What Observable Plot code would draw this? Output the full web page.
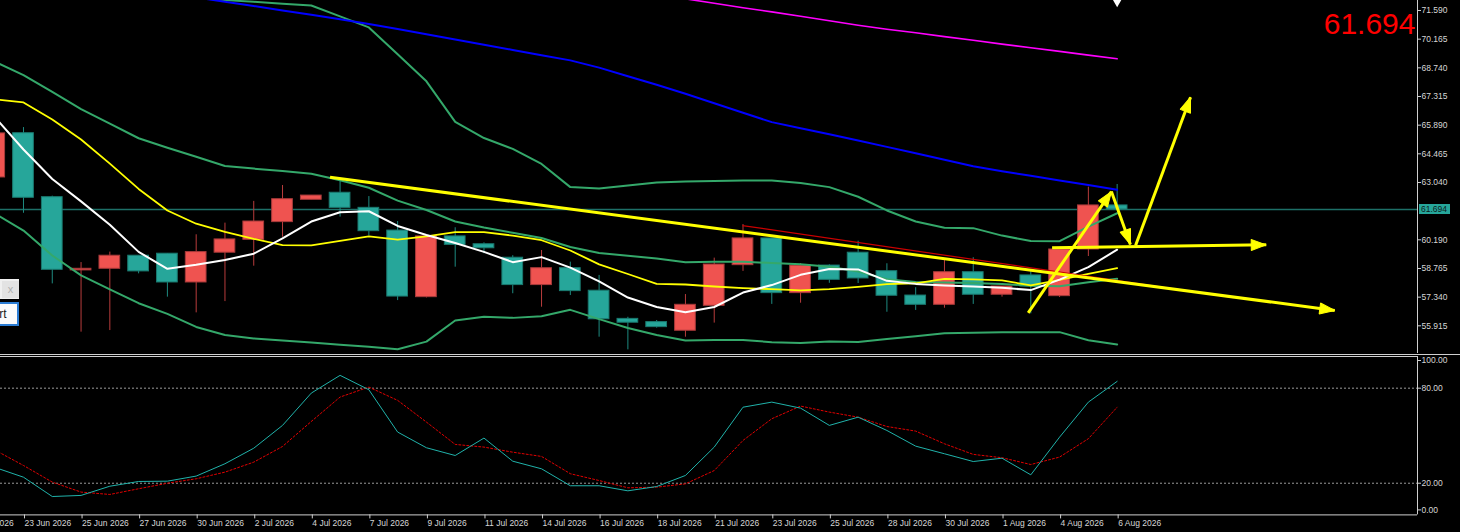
<!DOCTYPE html>
<html><head><meta charset="utf-8">
<script src="https://cdn.jsdelivr.net/npm/d3@7"></script>
<script src="https://cdn.jsdelivr.net/npm/@observablehq/plot@0.6"></script>
<style>
html,body{margin:0;padding:0;background:#000;width:1460px;height:532px;overflow:hidden;}
#wrap{position:relative;width:1460px;height:532px;overflow:hidden;}
#main{position:absolute;left:0;top:0;width:1460px;height:354px;border-bottom:1px solid #cfcfcf;}
#stoch{position:absolute;left:0;top:355px;width:1460px;height:177px;}
#main svg,#stoch svg{display:block;}
.pricebox{position:absolute;left:1419px;width:29px;height:10px;padding-left:2px;background:#26a69a;color:#0c1c1c;font:8.5px 'Liberation Sans',Arial,sans-serif;line-height:10px;}
#w1{position:absolute;left:-40px;top:279px;width:59px;height:20px;background:#f0f0f0;}
#w1 span{position:absolute;right:0;top:2px;width:17px;height:17px;background:#e3e3e3;color:#b0b0b0;font:11px 'Liberation Sans',Arial,sans-serif;text-align:center;line-height:17px;}
#w2{position:absolute;left:-31px;top:302px;width:46px;height:20px;border:2px solid #2b7cd3;background:#fbfbfb;font:12px 'Liberation Sans',Arial,sans-serif;color:#1a1a1a;text-align:center;line-height:20px;}
</style></head>
<body><div id="wrap"><div id="main"></div><div id="stoch"></div>
<div id="w1"><span>x</span></div><div id="w2">Start</div></div>
<script>
// ---------- data ----------
const dates = ["20 Jun 2026","22 Jun 2026","23 Jun 2026","24 Jun 2026","25 Jun 2026","26 Jun 2026","27 Jun 2026","29 Jun 2026","30 Jun 2026","1 Jul 2026","2 Jul 2026","3 Jul 2026","4 Jul 2026","6 Jul 2026","7 Jul 2026","8 Jul 2026","9 Jul 2026","10 Jul 2026","11 Jul 2026","13 Jul 2026","14 Jul 2026","15 Jul 2026","16 Jul 2026","17 Jul 2026","18 Jul 2026","20 Jul 2026","21 Jul 2026","22 Jul 2026","23 Jul 2026","24 Jul 2026","25 Jul 2026","27 Jul 2026","28 Jul 2026","29 Jul 2026","30 Jul 2026","31 Jul 2026","1 Aug 2026","3 Aug 2026","4 Aug 2026","5 Aug 2026","6 Aug 2026"];
const labelPos = [0,2,4,6,8,10,12,14,16,18,20,22,24,26,28,30,32,34,36,38,40];
// series below start at dates[1]
const open  = [63.29,65.49,62.31,58.67,58.75,59.40,59.50,58.07,59.55,60.19,61.07,62.18,62.53,61.78,60.65,57.34,60.36,59.97,59.30,57.94,58.78,57.66,56.26,56.10,55.67,56.91,58.93,60.26,57.54,58.91,59.55,58.63,57.42,56.96,58.58,57.46,58.42,57.39,59.71,61.90];
const high  = [65.72,65.77,62.36,59.06,59.58,59.40,59.50,60.44,61.02,62.10,62.89,62.39,63.14,62.34,61.10,60.36,60.79,60.04,59.40,59.66,59.08,58.42,56.34,56.18,57.47,59.28,60.95,60.26,59.01,58.95,60.12,59.00,57.81,59.16,59.30,57.87,58.63,59.81,62.81,62.94];
const low   = [63.04,61.51,58.00,55.60,55.68,58.50,57.34,56.56,57.12,58.88,60.32,62.18,61.32,60.39,57.17,57.30,58.83,59.50,57.51,56.84,57.42,55.35,54.72,55.80,55.35,56.05,58.62,56.98,57.04,58.03,58.02,56.59,56.68,56.79,56.98,57.34,56.51,57.32,59.36,61.67];
const close = [65.48,62.28,58.70,58.75,59.40,58.62,58.07,59.58,60.21,61.10,62.21,62.39,61.78,60.62,57.37,60.36,59.94,59.77,57.94,58.78,57.64,56.24,56.07,55.85,56.96,58.96,60.26,57.54,58.91,58.20,58.27,57.41,56.96,58.58,57.46,57.87,57.87,59.71,61.90,61.694];
const maWhite  = [66.30,64.68,63.21,62.10,60.94,59.59,58.75,58.95,59.19,59.50,60.26,61.10,61.56,61.61,60.88,60.43,60.03,59.59,59.08,59.33,58.81,58.12,57.32,56.85,56.59,56.85,57.57,57.94,58.45,58.74,58.72,58.15,58.00,57.92,57.87,57.81,57.69,58.21,58.83,59.70];
const maYellow = [67.17,67.02,66.17,65.18,63.98,62.72,61.65,60.99,60.59,60.24,59.93,59.91,60.14,60.36,60.20,60.36,60.57,60.57,60.40,60.17,59.66,58.97,58.49,58.00,57.97,57.87,57.79,57.74,57.68,57.74,57.85,57.99,58.03,58.25,58.22,58.17,57.93,58.20,58.50,58.78];
const maBlue = [null,null,null,null,null,null,72.45,72.24,72.02,71.81,71.59,71.38,71.16,70.92,70.67,70.41,70.15,69.89,69.63,69.37,69.11,68.75,68.32,67.90,67.45,66.98,66.51,66.04,65.74,65.44,65.13,64.81,64.49,64.17,63.85,63.60,63.37,63.14,62.91,62.68];
const maMagenta = [null,null,null,null,null,null,null,null,null,null,null,null,null,null,null,null,null,null,null,null,null,null,null,null,72.17,71.95,71.73,71.52,71.30,71.08,70.86,70.66,70.48,70.29,70.11,69.92,69.74,69.56,69.37,69.19];
const bbUpper = [null,null,null,null,null,null,null,72.24,72.11,72.02,71.93,71.84,71.30,70.75,69.42,68.07,66.05,65.25,64.71,63.96,62.81,62.74,62.89,63.04,63.09,63.12,63.14,63.14,63.02,62.81,62.33,61.65,61.10,60.79,60.77,60.40,60.13,60.12,60.85,61.51];
const bbMiddle = [69.05,68.38,67.54,66.69,65.97,65.24,64.77,64.32,63.86,63.73,63.61,63.47,63.15,62.78,62.14,61.67,61.10,60.80,60.54,60.28,59.83,59.53,59.40,59.26,59.08,59.10,59.10,59.04,58.98,58.85,58.61,58.23,58.09,58.07,58.04,58.00,57.91,57.88,58.08,58.25];
const bbLower = [61.50,60.65,59.41,58.42,57.73,57.04,56.51,55.86,55.46,55.29,55.19,55.09,54.98,54.87,54.75,55.13,56.18,56.37,56.31,56.39,56.71,56.25,55.81,55.46,55.19,55.21,55.21,55.10,55.06,55.13,55.11,55.26,55.40,55.55,55.57,55.60,55.60,55.60,55.20,54.99];
const stochMain   = [30.0,23.8,11.6,12.3,18.1,21.1,21.3,24.5,32.3,42.1,56.5,76.9,88.1,79.0,52.3,42.4,37.5,48.5,33.9,29.1,18.4,18.4,15.2,17.9,24.9,42.8,68.0,71.2,67.4,56.5,61.7,53.3,43.4,38.6,33.7,35.8,25.3,49.1,71.2,84.3];
const stochSignal = [41.0,31.2,20.7,14.4,12.9,16.5,20.0,22.8,27.0,33.3,43.2,59.0,74.4,80.7,72.3,58.6,44.5,42.8,39.6,36.9,26.0,21.7,17.1,17.5,19.6,28.0,47.0,60.7,68.7,64.9,61.7,55.8,52.9,44.9,38.2,36.1,31.8,36.5,48.1,68.0];
const priceTicks = [71.590,70.165,68.740,67.315,65.890,64.465,63.040,60.190,58.765,57.340,55.915];
const stochLevels = [20, 80];
// drawn objects: [bar position, price]
const arrowFrom = [[12.65,63.30],[36.91,56.56],[39.80,62.59],[40.64,59.91],[37.74,59.79]];
const arrowTo   = [[47.56,56.68],[39.80,62.59],[40.46,59.96],[42.55,67.28],[45.18,59.94]];
const redLineFrom = [[26.98,60.90]];
const redLineTo   = [[44.04,57.32]];
const topMarker = [[40, 72.12]];

// ---------- build ----------
const bars = open.map((o, k) => ({pos: k + 1, date: dates[k + 1], o, h: high[k], l: low[k], c: close[k]}));
const last = close[close.length - 1];
const up = "#ef5350", down = "#26a69a";
const xDomain = [1.201, 50.436];
const yDomain = [54.539, 72.087];
const font = "'Liberation Sans', Arial, sans-serif";
const baseStyle = {background: "transparent", color: "#d6d6d6", fontFamily: font, fontSize: "8.5px", overflow: "hidden"};

function arrowHead(color, context) {
  const doc = (context && context.document) || document;
  const ns = "http://www.w3.org/2000/svg";
  const m = doc.createElementNS(ns, "marker");
  m.setAttribute("viewBox", "-16 -7 17 14");
  m.setAttribute("markerWidth", "17");
  m.setAttribute("markerHeight", "14");
  m.setAttribute("markerUnits", "userSpaceOnUse");
  m.setAttribute("orient", "auto");
  m.setAttribute("refX", "0");
  m.setAttribute("refY", "0");
  const p = doc.createElementNS(ns, "path");
  p.setAttribute("d", "M-15,-5.5L0,0L-15,5.5Z");
  p.setAttribute("fill", color);
  p.setAttribute("stroke", color);
  p.setAttribute("stroke-width", "1");
  m.appendChild(p);
  return m;
}

function seriesLine(arr, opts) {
  return Plot.line(bars, {x: "pos", y: (d, i) => arr[i], clip: true, ...opts});
}

function buildMain(marker) {
  return Plot.plot({
    width: 1460, height: 354,
    marginLeft: 0, marginRight: 43, marginTop: 0, marginBottom: 1,
    x: {domain: xDomain, axis: null, label: null},
    y: {domain: yDomain, label: null},
    color: {type: "identity"},
    style: baseStyle,
    marks: [
      Plot.ruleY([last], {stroke: "#1d7068", strokeWidth: 1.5}),
      Plot.ruleX(bars, {x: "pos", y1: "l", y2: "h", stroke: d => d.c >= d.o ? "#b83c3c" : "#1e8a80", clip: true}),
      Plot.rect(bars, {x1: d => d.pos - 0.36, x2: d => d.pos + 0.36, y1: "o", y2: "c",
        fill: d => d.c >= d.o ? up : down, stroke: d => d.c >= d.o ? "#a83a3a" : "#1a7a70", strokeWidth: 1, clip: true}),
      seriesLine(bbUpper, {stroke: "#34a86a", strokeWidth: 2}),
      seriesLine(bbMiddle, {stroke: "#34a86a", strokeWidth: 2}),
      seriesLine(bbLower, {stroke: "#34a86a", strokeWidth: 2}),
      seriesLine(maBlue, {stroke: "#0000ff", strokeWidth: 2}),
      seriesLine(maMagenta, {stroke: "#ff00ff", strokeWidth: 1.6}),
      seriesLine(maYellow, {stroke: "#ffff00", strokeWidth: 1.8}),
      seriesLine(maWhite, {stroke: "#ffffff", strokeWidth: 2}),
      Plot.link(redLineFrom.map((a, i) => [a, redLineTo[i]]), {x1: d => d[0][0], y1: d => d[0][1], x2: d => d[1][0], y2: d => d[1][1], stroke: "#cc0000", strokeWidth: 1.2}),
      Plot.link(arrowFrom.map((a, i) => [a, arrowTo[i]]), {x1: d => d[0][0], y1: d => d[0][1], x2: d => d[1][0], y2: d => d[1][1], stroke: "#ffff00", strokeWidth: 3, markerEnd: marker}),
      Plot.dot(topMarker, {x: d => d[0], y: d => d[1], symbol: "diamond", r: 4.5, fill: "#ffffff", stroke: "none"}),
      Plot.ruleX([xDomain[1]], {stroke: "#cfcfcf"}),
      Plot.axisY(priceTicks, {anchor: "right", tickSize: 3, tickPadding: 1, tickFormat: d => d.toFixed(3), stroke: "#cfcfcf", label: null}),
      Plot.text([last], {frameAnchor: "top-right", text: d => d.toFixed(3), fill: "#ff0000", fontSize: 30, fontFamily: font, textAnchor: "end", lineAnchor: "bottom", dx: -2, dy: 33.5})
    ]
  });
}

let mainSvg;
try { mainSvg = buildMain(arrowHead); } catch (e) { mainSvg = buildMain("arrow"); }
document.getElementById("main").append(mainSvg);

const py = mainSvg.scale("y").apply(last);
const box = document.createElement("div");
box.className = "pricebox";
box.style.top = (py - 5) + "px";
box.textContent = last.toFixed(3);
document.getElementById("wrap").append(box);

const stochSvg = Plot.plot({
  width: 1460, height: 177,
  marginLeft: 0, marginRight: 43, marginTop: 1, marginBottom: 17.6,
  x: {domain: xDomain, label: null},
  y: {domain: [0, 100], label: null},
  style: baseStyle,
  marks: [
    Plot.ruleY(stochLevels, {stroke: "#9a9a9a", strokeDasharray: "2,2"}),
    Plot.ruleY([0, 100], {stroke: "#cfcfcf"}),
    Plot.ruleX([xDomain[1]], {stroke: "#cfcfcf"}),
    Plot.line(bars, {x: "pos", y: (d, i) => stochSignal[i], stroke: "#e00000", strokeWidth: 1, strokeDasharray: "2,2", clip: true}),
    Plot.line(bars, {x: "pos", y: (d, i) => stochMain[i], stroke: "#20b2aa", strokeWidth: 1, clip: true}),
    Plot.axisY(stochLevels, {anchor: "right", tickSize: 3, tickPadding: 1, tickFormat: d => d.toFixed(2), stroke: "#cfcfcf", label: null}),
    Plot.axisY([100], {anchor: "right", tickSize: 3, tickPadding: 1, tickFormat: d => d.toFixed(2), dy: 4, stroke: "#cfcfcf", label: null}),
    Plot.axisY([0], {anchor: "right", tickSize: 3, tickPadding: 1, tickFormat: d => d.toFixed(2), dy: -5, stroke: "#cfcfcf", label: null}),
    Plot.axisX(labelPos, {anchor: "bottom", tickSize: 4, tickPadding: 1, tickFormat: p => dates[p], textAnchor: "start", dx: 1, stroke: "#cfcfcf", label: null})
  ]
});
document.getElementById("stoch").append(stochSvg);
</script>
</body></html>
